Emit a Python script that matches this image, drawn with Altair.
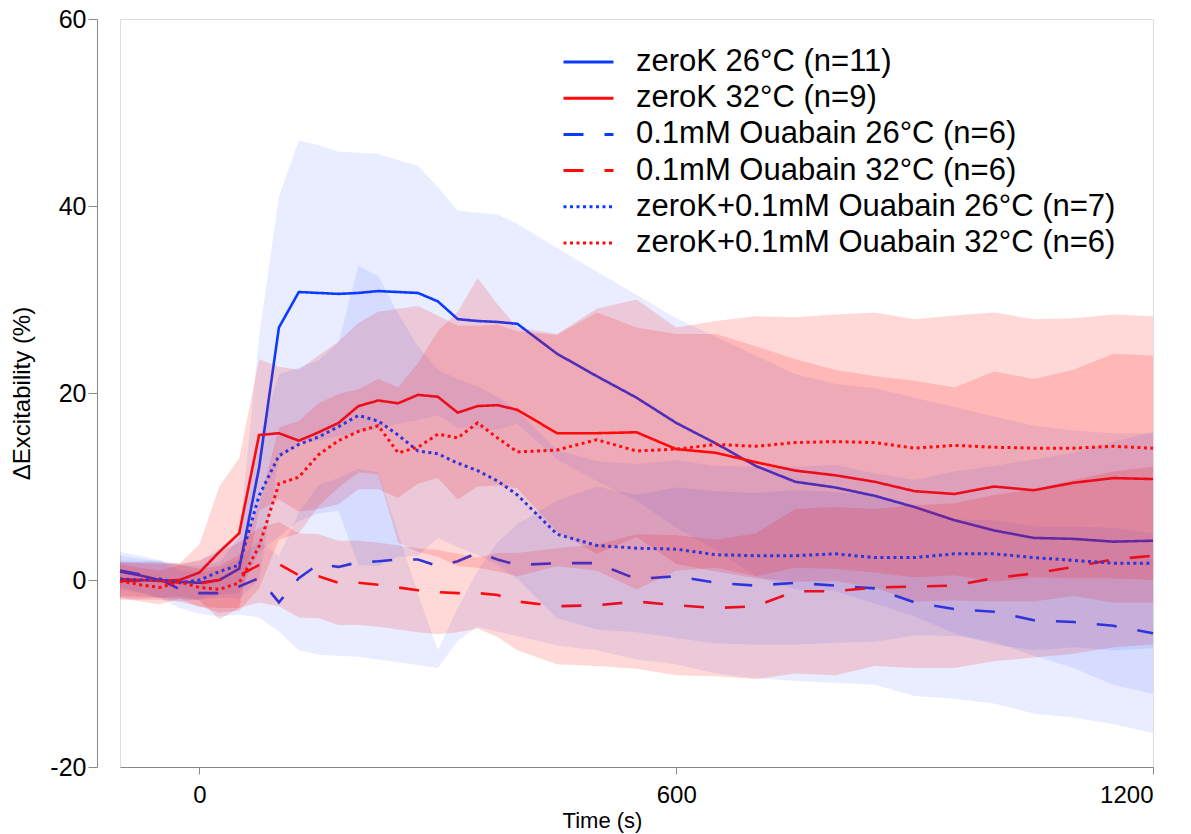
import altair as alt
import pandas as pd

# ---- data (time in s, values in %) ----
T = [-100, -75, -50, -25, 0, 25, 50, 75, 100, 125, 150, 175, 200, 225, 250, 275, 300, 325,
     350, 375, 400, 450, 500, 550, 600, 650, 700, 750, 800, 850, 900, 950, 1000, 1050, 1100, 1150, 1200]

names = ["zeroK 26°C (n=11)", "zeroK 32°C (n=9)", "0.1mM Ouabain 26°C (n=6)",
         "0.1mM Ouabain 32°C (n=6)", "zeroK+0.1mM Ouabain 26°C (n=7)", "zeroK+0.1mM Ouabain 32°C (n=6)"]

mean1 = [0.9, 0.5, 0.0, -0.2, -0.3, 0.0, 1.2, 12.0, 27.0, 30.8, 30.7, 30.6, 30.7, 30.9, 30.8, 30.7, 29.8, 27.9,
         27.7, 27.6, 27.4, 24.2, 21.8, 19.5, 16.8, 14.6, 12.2, 10.5, 9.9, 9.0, 7.8, 6.4, 5.3, 4.5, 4.4, 4.1, 4.2]
hi1 = [2.6, 2.3, 1.9, 1.6, 1.5, 1.9, 4.5, 26.0, 41.0, 47.0, 46.5, 45.8, 45.7, 45.6, 44.9, 44.3, 42.0, 39.5,
       39.3, 39.1, 38.1, 35.5, 33.0, 30.5, 28.0, 26.0, 24.0, 22.0, 21.0, 20.5, 19.5, 18.5, 17.5, 16.5, 16.0, 15.7, 15.7]
lo1 = [-0.8, -1.3, -1.9, -2.0, -2.1, -1.9, -2.0, 0.0, 13.0, 14.6, 14.9, 15.4, 15.7, 16.2, 16.7, 17.1, 17.6, 16.3,
       16.1, 16.1, 16.7, 12.9, 10.6, 8.5, 5.6, 3.2, 0.4, -1.0, -1.2, -2.5, -3.9, -5.7, -6.9, -7.5, -7.2, -7.5, -7.3]

mean2 = [0.1, 0.0, -0.1, 0.0, 0.8, 3.0, 5.0, 15.5, 15.7, 14.9, 15.8, 16.8, 18.6, 19.2, 18.9, 19.8, 19.6, 17.9,
         18.6, 18.7, 18.2, 15.7, 15.7, 15.8, 14.0, 13.6, 12.6, 11.7, 11.2, 10.5, 9.5, 9.2, 10.0, 9.6, 10.4, 10.9, 10.8]
hi2 = [1.9, 1.8, 1.7, 1.8, 3.8, 10.0, 13.0, 23.6, 22.8, 22.5, 24.0, 25.5, 27.5, 28.7, 29.0, 29.3, 28.3, 27.2,
       27.2, 27.3, 26.6, 26.2, 28.6, 27.0, 26.3, 26.3, 25.0, 23.6, 22.5, 21.8, 21.3, 20.6, 22.3, 21.5, 22.5, 24.2, 24.0]
lo2 = [-1.7, -1.8, -1.9, -1.8, -2.2, -4.2, -3.0, 7.4, 8.6, 7.3, 7.6, 8.1, 9.7, 9.7, 8.8, 10.3, 10.9, 8.6,
       10.0, 10.1, 9.8, 5.2, 2.8, 4.6, 1.7, 0.9, 0.2, -0.2, -0.1, -0.8, -2.3, -2.2, -2.3, -2.3, -1.7, -2.4, -2.4]

mean3 = [1.0, 0.6, 0.1, -1.0, -1.4, -1.4, -0.7, 0.2, -2.4, 0.2, 1.7, 1.4, 1.9, 2.0, 2.2, 2.2, 1.5, 2.0,
         2.9, 2.2, 1.6, 1.8, 1.8, 0.1, 0.4, -0.3, -0.6, -0.3, -0.6, -0.9, -2.4, -3.1, -3.4, -4.3, -4.5, -4.9, -5.7]
hi3 = [3.0, 2.6, 2.1, 1.0, 0.8, 1.1, 2.3, 4.2, 2.6, 7.2, 10.2, 10.9, 11.9, 11.5, 5.0, -1.5, -7.5, -3.0,
       1.0, 4.0, 6.0, 8.5, 10.0, 9.1, 9.9, 9.5, 9.3, 9.6, 9.4, 9.1, 7.6, 6.5, 6.4, 5.7, 5.7, 5.6, 5.0]
lo3 = [-1.0, -1.4, -1.9, -3.0, -3.6, -3.9, -3.7, -4.0, -5.5, -7.5, -8.0, -8.1, -8.2, -8.5, -8.8, -9.1, -9.4, -6.5,
       -5.0, -5.5, -6.0, -7.0, -7.5, -8.5, -9.0, -10.0, -10.5, -10.8, -11.0, -11.2, -12.4, -12.7, -13.2, -14.3, -14.7, -15.4, -16.4]

mean4 = [-0.1, -0.1, -0.1, -0.3, -0.4, 0.0, 0.5, 1.6, 1.7, 0.5, 0.4, -0.3, -0.3, -0.5, -0.8, -1.1, -1.3, -1.4,
         -1.4, -1.6, -2.3, -2.8, -2.7, -2.3, -2.7, -3.0, -2.8, -1.2, -1.2, -0.8, -0.7, -0.6, 0.2, 0.7, 1.4, 2.2, 2.6]
hi4 = [1.9, 1.9, 1.9, 1.7, 2.1, 3.0, 4.0, 5.6, 6.2, 5.0, 4.9, 4.2, 4.2, 4.0, 3.7, 3.4, 3.2, 2.8,
       2.4, 2.9, 2.9, 3.4, 3.8, 4.9, 4.8, 4.3, 5.0, 7.6, 7.8, 7.6, 8.0, 8.2, 9.1, 9.7, 10.7, 11.6, 12.1]
lo4 = [-2.1, -2.1, -2.1, -2.3, -2.9, -3.0, -3.0, -2.4, -2.8, -4.0, -4.1, -4.8, -4.8, -5.0, -5.3, -5.6, -5.8, -5.6,
       -5.2, -6.1, -7.5, -9.0, -9.2, -9.5, -10.2, -10.3, -10.6, -10.0, -10.2, -9.2, -9.4, -9.4, -8.7, -8.3, -7.9, -7.2, -6.9]

mean5 = [0.1, 0.0, 0.1, -0.3, 0.0, 0.9, 1.6, 9.0, 13.3, 14.5, 15.3, 16.4, 17.6, 17.0, 15.5, 13.8, 13.5, 12.5,
         11.7, 10.6, 9.1, 4.9, 3.7, 3.4, 3.3, 2.7, 2.6, 2.6, 2.8, 2.4, 2.4, 2.8, 2.8, 2.4, 2.1, 1.8, 1.8]
hi5 = [2.1, 2.0, 2.1, 1.7, 2.0, 3.4, 4.6, 15.0, 22.0, 22.7, 23.5, 25.4, 33.6, 32.5, 28.5, 25.0, 22.5, 21.5,
       20.7, 19.6, 18.1, 13.9, 12.7, 12.4, 12.8, 12.2, 12.1, 12.1, 12.3, 11.4, 10.7, 11.6, 12.2, 12.9, 13.6, 14.8, 15.8]
lo5 = [-1.9, -2.0, -1.9, -2.3, -2.0, -1.6, -1.4, 3.0, 4.6, 6.3, 7.1, 7.4, 1.6, 1.5, 2.5, 2.6, 4.5, 3.5,
       2.7, 1.6, 0.1, -4.1, -5.3, -5.6, -6.2, -6.8, -6.9, -6.9, -6.7, -6.6, -5.9, -6.0, -6.6, -8.1, -9.4, -11.2, -12.2]

mean6 = [-0.1, -0.5, -0.8, -0.2, -0.8, -1.0, -0.3, 3.6, 10.3, 11.0, 13.4, 14.9, 15.9, 16.5, 13.6, 14.2, 15.6, 15.2,
         16.8, 15.2, 13.7, 13.9, 15.0, 13.8, 14.0, 14.5, 14.3, 14.7, 14.8, 14.7, 14.1, 14.4, 14.2, 14.1, 14.1, 14.3, 14.1]
hi6 = [1.7, 1.3, 1.0, 1.6, 1.2, 1.5, 2.7, 8.1, 16.3, 17.0, 18.9, 19.9, 20.4, 21.5, 20.6, 23.2, 26.6, 28.7,
       32.3, 29.5, 27.0, 26.3, 29.0, 30.0, 27.0, 27.7, 28.2, 28.1, 28.4, 28.6, 27.9, 28.3, 28.6, 27.9, 28.0, 28.4, 28.2]
lo6 = [-1.9, -2.3, -2.6, -2.0, -2.8, -3.5, -3.3, -0.9, 4.3, 5.0, 7.9, 9.9, 11.5, 11.3, 4.0, 3.0, 2.5, 1.5,
       1.3, 0.9, 0.4, 1.5, 1.0, -1.0, 1.0, 1.3, 0.4, 1.3, 1.2, 0.8, 0.3, 0.5, -0.2, 0.3, 0.2, 0.2, 0.0]

means = [mean1, mean2, mean3, mean4, mean5, mean6]
highs = [hi1, hi2, hi3, hi4, hi5, hi6]
lows = [lo1, lo2, lo3, lo4, lo5, lo6]

BLUE = "#0a3cff"
RED = "#ff0a0a"
line_colors = [BLUE, RED, BLUE, RED, BLUE, RED]
band_opacity = [0.09, 0.16, 0.09, 0.16, 0.09, 0.16]
dashes = [[1, 0], [1, 0], [20, 21], [20, 21], [3, 3.5], [3, 3.5]]

rows = []
for name, m, h, l in zip(names, means, highs, lows):
    for t, mv, hv, lv in zip(T, m, h, l):
        rows.append({"series": name, "t": t, "mean": mv, "hi": hv, "lo": lv})
df = pd.DataFrame(rows)

xscale = alt.Scale(domain=[-100, 1200], nice=False, zero=False)
yscale = alt.Scale(domain=[-20, 60], nice=False, zero=False)

legend = alt.Legend(
    title=None, orient="none", legendX=442, legendY=28,
    symbolType="stroke", symbolSize=2500, symbolStrokeWidth=3,
    labelFont="Liberation Sans", labelFontSize=31, labelColor="#000",
    labelLimit=0, labelOffset=21, rowPadding=5.2, padding=0, clipHeight=30,
)

xaxis = alt.Axis(values=[0, 600, 1200], title="Time (s)", grid=False, labelExpr="datum.value",
                 labelFont="Liberation Sans", labelFontSize=24,
                 titleFont="Liberation Sans", titleFontSize=22, titleFontWeight="normal",
                 tickSize=7, labelPadding=9, titlePadding=3, titleX=482, labelColor="#000", titleColor="#000")
yaxis = alt.Axis(values=[-20, 0, 20, 40, 60], title="ΔExcitability (%)", grid=False, offset=23,
                 labelExpr="datum.value",
                 labelFont="Liberation Sans", labelFontSize=25,
                 titleFont="Liberation Sans", titleFontSize=24, titleFontWeight="normal",
                 titleX=-75, titleY=374, titleAngle=270, titleAlign="center", titleBaseline="middle",
                 tickSize=9, labelPadding=2, labelColor="#000", titleColor="#000")

layers = []
for i, name in enumerate(names):
    base = alt.Chart(df).transform_filter(alt.datum.series == name)
    band = base.mark_area(color=line_colors[i], opacity=band_opacity[i]).encode(
        x=alt.X("t:Q", scale=xscale, axis=xaxis),
        y=alt.Y("lo:Q", scale=yscale, axis=yaxis),
        y2="hi:Q",
    )
    line = base.mark_line(strokeWidth=2.6 if i < 4 else 3.0).encode(
        x=alt.X("t:Q", scale=xscale, axis=xaxis),
        y=alt.Y("mean:Q", scale=yscale, axis=yaxis),
        color=alt.Color("series:N", scale=alt.Scale(domain=names, range=line_colors), legend=legend),
        strokeDash=alt.StrokeDash("series:N", scale=alt.Scale(domain=names, range=dashes), legend=legend),
    )
    layers += [band, line]

chart = alt.layer(*layers).properties(
    width=1033, height=748,
    autosize=alt.AutoSizeParams(type="none"),
    padding={"left": 120, "top": 19, "right": 38, "bottom": 67},
).configure_view(stroke=None).configure_axis(
    domainColor="#222", domainWidth=1.6, tickColor="#222", tickWidth=1.6,
).configure(background="white")

chart.save("out.html", embed_options={"renderer": "svg", "actions": False})
